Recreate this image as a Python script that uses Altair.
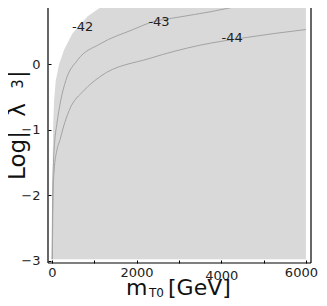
import altair as alt
import pandas as pd

# ---- data ----
boundary_m = [0, 4, 12, 22, 31, 54, 94, 172, 290, 486, 840, 1230]
boundary_v = [-2.98, -2.5, -2.0, -1.5, -0.96, -0.55, -0.25, 0.0, 0.22, 0.47, 0.73, 0.905]
region_right = 6000

c43_m = [8, 20, 40, 70, 118, 212, 330, 604, 1139, 1920, 2318, 3000, 3734, 4512]
c43_v = [-2.98, -2.0, -1.5, -1.17, -0.92, -0.55, -0.25, 0.06, 0.31, 0.53, 0.635, 0.72, 0.80, 0.905]

c44_m = [12, 30, 54, 118, 196, 274, 408, 762, 1139, 2318, 3497, 4500, 6000]
c44_v = [-2.98, -2.0, -1.63, -1.32, -1.15, -0.96, -0.71, -0.4, -0.19, 0.09, 0.29, 0.40, 0.53]

label_text = ["-42", "-43", "-44"]
label_m = [726, 2531, 4257]
label_v = [0.561, 0.638, 0.408]

x_ticks = [0, 1000, 2000, 3000, 4000, 5000, 6000]
y_ticks = [-3, -2, -1, 0]

W, H = 263, 255
FONT = "DejaVu Sans"

region = pd.DataFrame({"m": boundary_m, "v": boundary_v, "right": [region_right] * len(boundary_m)})
lines = pd.concat([
    pd.DataFrame({"m": c43_m, "v": c43_v, "level": "-43"}),
    pd.DataFrame({"m": c44_m, "v": c44_v, "level": "-44"}),
])
labels = pd.DataFrame({"t": label_text, "m": label_m, "v": label_v})

xs = alt.Scale(domain=[-90, 6120], nice=False, zero=False)
ys = alt.Scale(domain=[-3.038, 0.859], nice=False, zero=False)

xaxis = alt.Axis(values=x_ticks, format="d", title=None, grid=False, domain=False,
                 offset=-3, tickSize=3, tickColor="#000",
                 labelPadding={"expr": "datum.value == 4000 ? 6 : 3"},
                 labelOffset={"expr": "datum.value == 6000 ? -5 : 0"},
                 labelExpr="datum.value % 2000 == 0 ? datum.label : ''",
                 labelFont=FONT, labelFontSize=13, labelColor="#222")
yaxis = alt.Axis(values=y_ticks, format="d", title=None, grid=False, domain=False,
                 offset=-3, tickSize=3, tickColor="#000", labelPadding=8,
                 labelFont=FONT, labelFontSize=13, labelColor="#222")

area = alt.Chart(region).mark_area(orient="horizontal", color="#d9d9d9", clip=True).encode(
    y=alt.Y("v:Q", scale=ys, axis=yaxis),
    x=alt.X("m:Q", scale=xs, axis=xaxis),
    x2="right:Q",
)

contour = alt.Chart(lines).mark_line(color="#a3a3a3", strokeWidth=1, interpolate="monotone", clip=True).encode(
    x=alt.X("m:Q", scale=xs),
    y=alt.Y("v:Q", scale=ys),
    detail="level:N",
)

text = alt.Chart(labels).mark_text(font=FONT, fontSize=13, color="#222", align="center", baseline="middle").encode(
    x=alt.X("m:Q", scale=xs),
    y=alt.Y("v:Q", scale=ys),
    text="t:N",
)

one = pd.DataFrame({"k": [0]})
frame = [
    alt.Chart(one).mark_rule(color="#000", strokeWidth=1.2).encode(x=alt.value(0), y=alt.value(0), y2=alt.value(H)),
    alt.Chart(one).mark_rule(color="#000", strokeWidth=1.2).encode(x=alt.value(W), y=alt.value(0), y2=alt.value(H)),
    alt.Chart(one).mark_rule(color="#000", strokeWidth=1.2).encode(x=alt.value(0), x2=alt.value(W), y=alt.value(H)),
]

# axis titles composed of pieces (subscripts)
x_title = [("m", 22, 78, 287), ("T0", 12, 101, 288.5), ("[GeV]", 22, 120, 287)]
y_title = [("Log|", 23, 155.5 - 8, -23), ("λ", 23, 110 - 8, -23), ("3", 15, 84 - 8, -25.5), ("|", 23, 74 - 8, -23)]

titles = []
for s, fs, px, py in x_title:
    titles.append(alt.Chart(one).mark_text(text=s, font=FONT, fontSize=fs, color="#111",
                                           align="left", baseline="alphabetic")
                  .encode(x=alt.value(px), y=alt.value(py)))
for s, fs, py, px in y_title:
    titles.append(alt.Chart(one).mark_text(text=s, font=FONT, fontSize=fs, color="#111", angle=270,
                                           align="center", baseline="alphabetic")
                  .encode(x=alt.value(px), y=alt.value(py)))

chart = alt.layer(area, contour, text, *frame, *titles).properties(
    width=W, height=H,
    autosize=alt.AutoSizeParams(type="none"),
    padding={"left": 40, "top": 0, "right": 8, "bottom": 36},
).configure_view(stroke=None).resolve_scale(x="shared", y="shared")

chart.save("out.html", embed_options={"renderer": "svg", "actions": False})
